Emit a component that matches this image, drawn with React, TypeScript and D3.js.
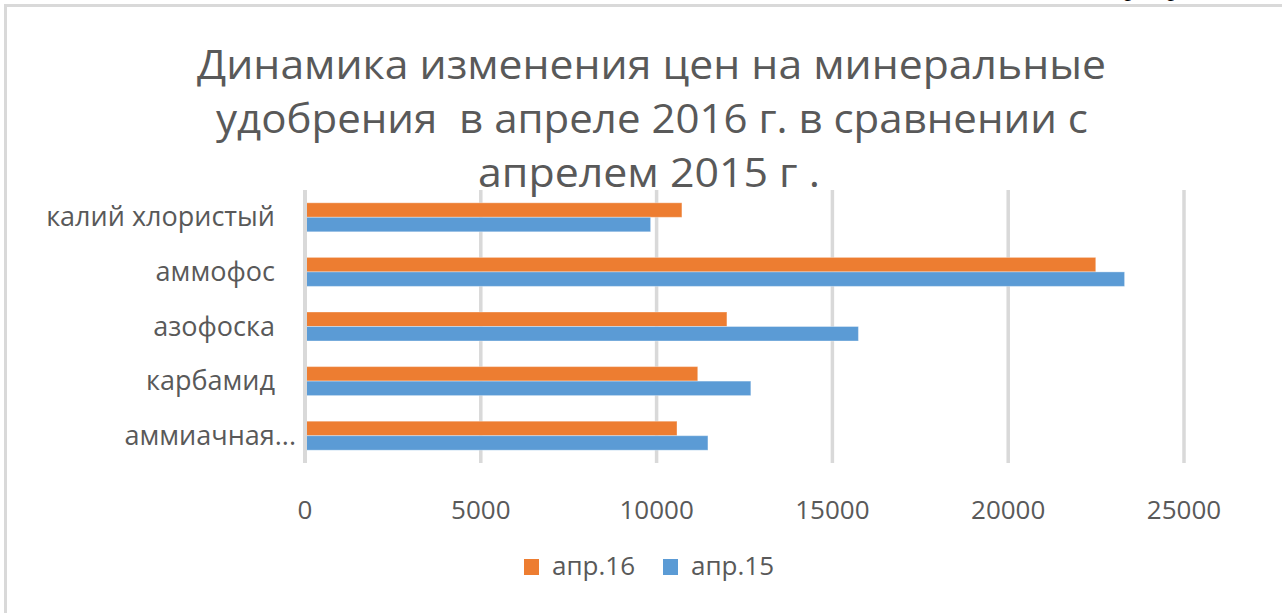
import React from "react";
import * as d3 from "d3";

const categories = ["калий хлористый   ", "аммофос   ", "азофоска   ", "карбамид   ", "аммиачная..."];
const seriesNames = ["апр.16", "апр.15"];
const apr16 = [10720, 22490, 12000, 11170, 10580];
const apr15 = [9830, 23310, 15740, 12680, 11460];
const xTicks = [0, 5000, 10000, 15000, 20000, 25000];
const titleLines = [
  "Динамика изменения цен на минеральные",
  "удобрения  в апреле 2016 г. в сравнении с",
  "апрелем 2015 г .",
];

const colors = ["#ED7D31", "#5B9BD5"];
const textColor = "#595959";
const gridColor = "#d9d9d9";
const font = "'Open Sans', sans-serif";

export default function App() {
  const W = 1282;
  const H = 613;
  const x = d3.scaleLinear().domain([0, 25000]).range([305, 1184]);
  const y0 = d3.scaleBand<string>().domain(categories).range([190, 463]).padding(0);
  const bw = y0.bandwidth();
  const y1 = d3
    .scaleBand<string>()
    .domain(seriesNames)
    .range([bw * 0.2344, bw * 0.7656])
    .padding(0);
  const series = [apr16, apr15];

  const titleSpecs = [
    { cx: 651.5, y: 79, len: 909 },
    { cx: 652, y: 133, len: 872 },
    { cx: 649, y: 187, len: 342 },
  ];

  return (
    <svg
      width={W}
      height={H}
      style={{ position: "absolute", left: 0, top: 0, background: "#fff" }}
    >
      <rect x={0} y={0} width={W} height={H} fill="#fff" />
      {/* partial text of the page above the chart */}
      <text x={1131} y={-4} fontFamily="'Liberation Serif', serif" fontSize={26} textAnchor="middle" fill="#000">р</text>
      <text x={1174} y={-4} fontFamily="'Liberation Serif', serif" fontSize={26} textAnchor="middle" fill="#000">р</text>
      {/* chart border */}
      <path d={`M5.5,${H + 10} L5.5,5.5 L${W + 10},5.5`} fill="none" stroke={gridColor} strokeWidth={3} />

      {/* title */}
      {titleLines.map((t, i) => (
        <text
          key={i}
          x={titleSpecs[i].cx}
          y={titleSpecs[i].y}
          textAnchor="middle"
          fontFamily={font}
          fontSize={40}
          fill={textColor}
          textLength={titleSpecs[i].len}
          lengthAdjust="spacingAndGlyphs"
          style={{ whiteSpace: "pre" }}
        >
          {t}
        </text>
      ))}

      {/* gridlines */}
      {xTicks.slice(1).map((t) => (
        <line key={t} x1={x(t)} x2={x(t)} y1={190} y2={463} stroke={gridColor} strokeWidth={3.5} />
      ))}

      {/* bars */}
      {categories.map((c, ci) => (
        <g key={c} transform={`translate(0,${y0(c)})`}>
          {seriesNames.map((s, si) => (
            <rect
              key={s}
              x={x(0)}
              y={y1(s)}
              width={x(series[si][ci]) - x(0)}
              height={y1.bandwidth()}
              fill={colors[si]}
              stroke="#ffffff"
              strokeOpacity={0.35}
              strokeWidth={1}
            />
          ))}
        </g>
      ))}

      {/* zero axis line */}
      <line x1={x(0)} x2={x(0)} y1={190} y2={463} stroke={gridColor} strokeWidth={4} />

      {/* category labels */}
      {categories.map((c) => (
        <text
          key={c}
          x={296}
          y={(y0(c) as number) + bw / 2 + 9}
          textAnchor="end"
          fontFamily={font}
          fontSize={27}
          fill={textColor}
          style={{ whiteSpace: "pre" }}
        >
          {c}
        </text>
      ))}

      {/* x tick labels */}
      {xTicks.map((t) => (
        <text key={t} x={x(t)} y={519} textAnchor="middle" fontFamily={font} fontSize={26} fill={textColor}>
          {t}
        </text>
      ))}

      {/* legend */}
      {seriesNames.map((s, i) => {
        const lx = [524, 663][i];
        return (
          <g key={s}>
            <rect x={lx} y={559} width={15} height={16} fill={colors[i]} />
            <text x={lx + 28} y={575} fontFamily={font} fontSize={26} fill={textColor}>
              {s}
            </text>
          </g>
        );
      })}
    </svg>
  );
}
